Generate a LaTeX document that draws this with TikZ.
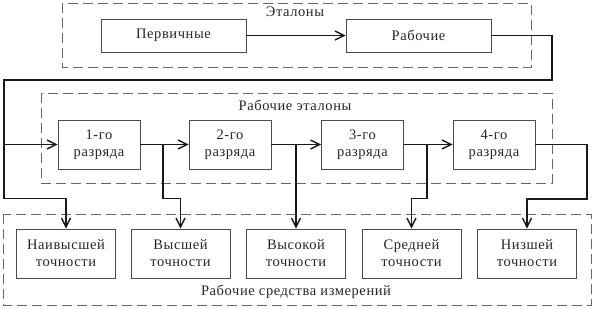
\documentclass[tikz,border=0pt]{standalone}
\usepackage{fontspec}
\setmainfont{Liberation Serif}[LetterSpace=4]
\usetikzlibrary{arrows.meta}
\begin{document}
\begin{tikzpicture}[x=1pt,y=-1pt,
  every node/.style={font=\fontsize{14.5pt}{17pt}\selectfont, text=black!85},
  box/.style={draw=black!70, line width=0.8pt, align=center, inner sep=0pt},
  topbox/.style={box, minimum width=145pt, minimum height=33pt},
  rankbox/.style={box, minimum width=82pt, minimum height=49pt},
  devbox/.style={box, minimum width=99pt, minimum height=49pt},
  frame/.style={draw=black!60, line width=0.8pt, dash pattern=on 10pt off 5pt},
  conn/.style={draw=black!90, line width=1.6pt},
  arr/.style={conn, -{Straight Barb[length=9pt,width=9pt,line width=1.4pt]}}]
\useasboundingbox (0,0) rectangle (594,308);
% frames
\draw[frame] (62,3) rectangle (531,67);
\draw[frame] (41,93) rectangle (552,183);
\draw[frame] (3,214) rectangle (591,305);
\node (lab1) at (295,12) {Эталоны};
\node (lab2) at (295,105) {Рабочие эталоны};
\node (lab3) at (296,292) {Рабочие средства измерений};
% top boxes
\node[topbox] (p) at (173.5,35.5) {Первичные};
\node[topbox] (r) at (418.5,35.5) {Рабочие};
% rank boxes
\node[rankbox] (g1) at (99,144.5) {1-го\\разряда};
\node[rankbox] (g2) at (230,144.5) {2-го\\разряда};
\node[rankbox] (g3) at (362.5,144.5) {3-го\\разряда};
\node[rankbox] (g4) at (494,144.5) {4-го\\разряда};
% device boxes
\node[devbox] (b1) at (66,253.5) {Наивысшей\\точности};
\node[devbox] (b2) at (180.5,253.5) {Высшей\\точности};
\node[devbox] (b3) at (296,253.5) {Высокой\\точности};
\node[devbox] (b4) at (411.5,253.5) {Средней\\точности};
\node[devbox] (b5) at (527,253.5) {Низшей\\точности};
% junctions
\coordinate (c1) at (4,144.5);
\coordinate (j1) at (163,144.5);
\coordinate (j2) at (296,144.5);
\coordinate (j3) at (427,144.5);
% connectors
\draw[arr] (p) -- (r);
\draw[conn] (r.east) -| (552,80) -| (c1);
\draw[arr] (c1) -- (g1.west);
\draw[arr] (c1) |- ([yshift=30pt]b1.north) -- (b1.north);
\draw[arr] (g1) -- (g2);
\draw[arr] (g2) -- (g3);
\draw[arr] (g3) -- (g4);
\draw[arr] (j1) |- ([yshift=30pt]b2.north) -- (b2.north);
\draw[arr] (j2) -- (b3.north);
\draw[arr] (j3) |- ([yshift=30pt]b4.north) -- (b4.north);
\draw[arr] (g4.east) -| (587,199) -| (b5.north);
\end{tikzpicture}
\end{document}
